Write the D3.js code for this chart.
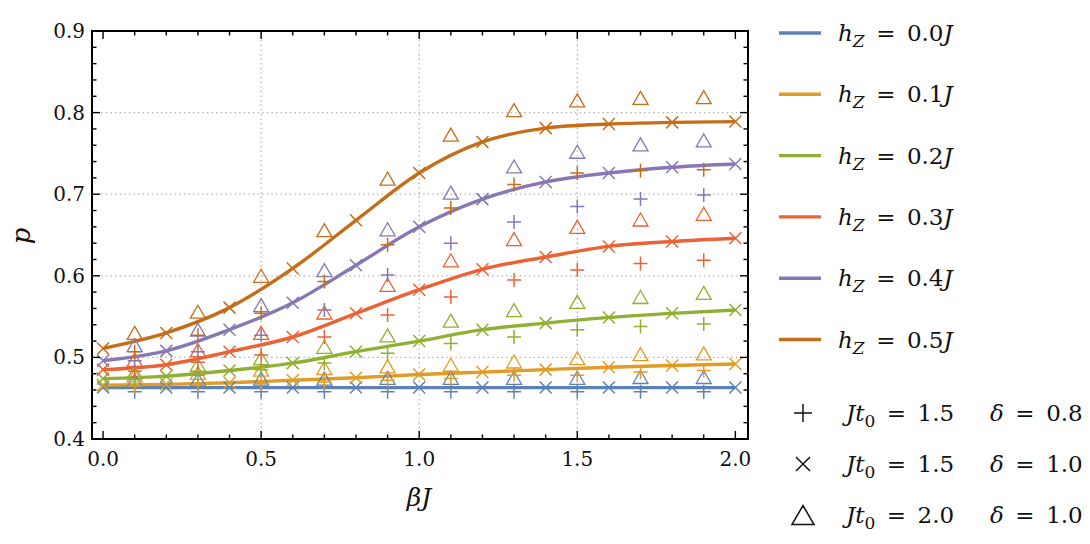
<!DOCTYPE html>
<html>
<head>
<meta charset="utf-8">
<script src="https://cdn.jsdelivr.net/npm/d3@7"></script>
<style>
  html, body { margin: 0; padding: 0; background: #fff; }
  svg { display: block; }
</style>
</head>
<body>
<svg id="chart" width="1090" height="544"></svg>
<script>
// ---------- data ----------
const fieldLabels = ["0.0", "0.1", "0.2", "0.3", "0.4", "0.5"];
const colors = ["#5E81B5", "#E19C24", "#8FB032", "#EB6235", "#8778B3", "#C56E1A"];

const betaEven = [0.0, 0.2, 0.4, 0.6, 0.8, 1.0, 1.2, 1.4, 1.6, 1.8, 2.0];
const betaOdd  = [0.1, 0.3, 0.5, 0.7, 0.9, 1.1, 1.3, 1.5, 1.7, 1.9];

// x markers (Jt0 = 1.5, delta = 1.0) — the solid curves pass through these
const crossH0 = [0.463, 0.463, 0.463, 0.463, 0.463, 0.463, 0.463, 0.463, 0.463, 0.463, 0.463];
const crossH1 = [0.466, 0.467, 0.469, 0.472, 0.475, 0.479, 0.482, 0.485, 0.488, 0.490, 0.492];
const crossH2 = [0.474, 0.477, 0.484, 0.493, 0.507, 0.520, 0.534, 0.542, 0.549, 0.554, 0.558];
const crossH3 = [0.485, 0.491, 0.507, 0.525, 0.554, 0.583, 0.608, 0.623, 0.636, 0.642, 0.646];
const crossH4 = [0.496, 0.508, 0.534, 0.567, 0.613, 0.660, 0.694, 0.715, 0.726, 0.733, 0.737];
const crossH5 = [0.511, 0.530, 0.561, 0.609, 0.668, 0.726, 0.764, 0.781, 0.786, 0.788, 0.789];

// + markers (Jt0 = 1.5, delta = 0.8)
const plusH0 = [0.458, 0.458, 0.458, 0.458, 0.458, 0.458, 0.458, 0.458, 0.458, 0.458];
const plusH1 = [0.465, 0.466, 0.468, 0.470, 0.472, 0.474, 0.478, 0.478, 0.482, 0.484];
const plusH2 = [0.473, 0.478, 0.485, 0.493, 0.505, 0.517, 0.525, 0.534, 0.538, 0.541];
const plusH3 = [0.483, 0.494, 0.503, 0.525, 0.552, 0.574, 0.595, 0.607, 0.615, 0.619];
const plusH4 = [0.496, 0.507, 0.527, 0.558, 0.601, 0.640, 0.666, 0.685, 0.694, 0.699];
const plusH5 = [0.507, 0.527, 0.554, 0.593, 0.638, 0.683, 0.712, 0.726, 0.729, 0.730];

// triangle markers (Jt0 = 2.0, delta = 1.0)
const triH0 = [0.472, 0.473, 0.474, 0.474, 0.475, 0.475, 0.475, 0.475, 0.476, 0.476];
const triH1 = [0.478, 0.481, 0.485, 0.487, 0.489, 0.491, 0.495, 0.499, 0.504, 0.505];
const triH2 = [0.482, 0.491, 0.499, 0.513, 0.527, 0.545, 0.558, 0.568, 0.574, 0.579];
const triH3 = [0.497, 0.509, 0.530, 0.555, 0.589, 0.619, 0.645, 0.660, 0.669, 0.676];
const triH4 = [0.515, 0.534, 0.564, 0.607, 0.657, 0.702, 0.734, 0.752, 0.761, 0.766];
const triH5 = [0.530, 0.556, 0.600, 0.656, 0.719, 0.773, 0.803, 0.815, 0.818, 0.819];

const xTicks = [0.0, 0.5, 1.0, 1.5, 2.0];
const yTicks = [0.4, 0.5, 0.6, 0.7, 0.8, 0.9];

const markerLegend = [
  { sym: "plus",  t0: "1.5", delta: "0.8" },
  { sym: "cross", t0: "1.5", delta: "1.0" },
  { sym: "tri",   t0: "2.0", delta: "1.0" }
];

// ---------- layout ----------
const crosses = [crossH0, crossH1, crossH2, crossH3, crossH4, crossH5];
const pluses  = [plusH0, plusH1, plusH2, plusH3, plusH4, plusH5];
const tris    = [triH0, triH1, triH2, triH3, triH4, triH5];

const svg = d3.select("#chart");
const FONT = "DejaVu Serif";
const L = 92, R = 748, T = 31, B = 439;
const x = d3.scaleLinear().domain([-0.035, 2.04]).range([L, R]);
const y = d3.scaleLinear().domain([0.4, 0.9]).range([B, T]);

// grid
const grid = svg.append("g").attr("stroke", "#b0b0b0").attr("stroke-width", 1.3)
  .attr("stroke-dasharray", "1.4,3.2");
[0.5, 1.0, 1.5].forEach(v => grid.append("line")
  .attr("x1", x(v)).attr("x2", x(v)).attr("y1", T).attr("y2", B));
[0.5, 0.6, 0.7, 0.8].forEach(v => grid.append("line")
  .attr("x1", L).attr("x2", R).attr("y1", y(v)).attr("y2", y(v)));

// curves
const line = d3.line().x(d => x(d[0])).y(d => y(d[1])).curve(d3.curveMonotoneX);
const plot = svg.append("g");
crosses.forEach((vals, i) => {
  plot.append("path")
    .attr("d", line(betaEven.map((b, j) => [b, vals[j]])))
    .attr("fill", "none").attr("stroke", colors[i]).attr("stroke-width", 3.4)
    .attr("stroke-linecap", "butt");
});

function plusPath(s) { return `M${-s},0H${s}M0,${-s}V${s}`; }
function crossPath(s) { return `M${-s},${-s}L${s},${s}M${-s},${s}L${s},${-s}`; }
function triPath(w, h) { return `M0,${-h/2}L${w/2},${h/2}L${-w/2},${h/2}Z`; }

const mk = svg.append("g").attr("fill", "none");
for (let i = 0; i < 6; i++) {
  tris[i].forEach((v, j) => mk.append("path").attr("d", triPath(15, 13))
    .attr("transform", `translate(${x(betaOdd[j])},${y(v)})`)
    .attr("stroke", colors[i]).attr("stroke-width", 1.3).attr("stroke-linejoin", "miter"));
  pluses[i].forEach((v, j) => mk.append("path").attr("d", plusPath(7))
    .attr("transform", `translate(${x(betaOdd[j])},${y(v)})`)
    .attr("stroke", colors[i]).attr("stroke-width", 1.5));
  crosses[i].forEach((v, j) => mk.append("path").attr("d", crossPath(6))
    .attr("transform", `translate(${x(betaEven[j])},${y(v)})`)
    .attr("stroke", colors[i]).attr("stroke-width", 1.5));
}

// frame
svg.append("rect").attr("x", L).attr("y", T).attr("width", R - L).attr("height", B - T)
  .attr("fill", "none").attr("stroke", "#000").attr("stroke-width", 2);

// ticks (inward, mirrored)
const tk = svg.append("g").attr("stroke", "#000").attr("stroke-width", 1.4);
d3.range(0, 21).forEach(k => {
  const v = k / 10, major = k % 5 === 0, len = major ? 8 : 4.5;
  tk.append("line").attr("x1", x(v)).attr("x2", x(v)).attr("y1", B).attr("y2", B - len);
  tk.append("line").attr("x1", x(v)).attr("x2", x(v)).attr("y1", T).attr("y2", T + len);
});
d3.range(0, 26).forEach(k => {
  const v = 0.4 + k * 0.02, major = k % 5 === 0, len = major ? 8 : 4.5;
  tk.append("line").attr("x1", L).attr("x2", L + len).attr("y1", y(v)).attr("y2", y(v));
  tk.append("line").attr("x1", R).attr("x2", R - len).attr("y1", y(v)).attr("y2", y(v));
});

function txt(sel) {
  return sel.append("text").style("font-family", FONT).attr("fill", "#111");
}

// tick labels
const xl = svg.append("g");
xTicks.forEach(d => txt(xl).attr("x", x(d)).attr("y", 466).attr("text-anchor", "middle")
  .style("font-size", "20px").text(d.toFixed(1)));
const yl = svg.append("g");
yTicks.forEach(d => txt(yl).attr("x", 85).attr("y", y(d) + 7).attr("text-anchor", "end")
  .style("font-size", "20px").text(d.toFixed(1)));

// axis titles
txt(svg).attr("x", 419).attr("y", 506).attr("text-anchor", "middle")
  .style("font-size", "25px").style("font-style", "italic").text("βJ");
txt(svg).attr("transform", "translate(30,236) rotate(-90)")
  .attr("text-anchor", "middle").style("font-size", "26px").style("font-style", "italic").text("p");

// legend: lines
const lg = svg.append("g");
const EQ = "\u2002=\u2002";
fieldLabels.forEach((lab, i) => {
  const ly = 33 + i * 61.3;
  lg.append("line").attr("x1", 779).attr("x2", 821).attr("y1", ly).attr("y2", ly)
    .attr("stroke", colors[i]).attr("stroke-width", 3.4);
  const t = txt(lg).attr("x", 838).attr("y", ly + 8).style("font-size", "23px");
  t.append("tspan").style("font-style", "italic").text("h");
  t.append("tspan").style("font-style", "italic").style("font-size", "17px").attr("dy", 6).text("Z");
  t.append("tspan").attr("dy", -6).text(EQ + lab);
  t.append("tspan").style("font-style", "italic").text("J");
});

// legend: markers
markerLegend.forEach((m, i) => {
  const ly = 413 + i * 51;
  const p = m.sym === "plus" ? plusPath(9) : m.sym === "cross" ? crossPath(7) : triPath(22, 19);
  lg.append("path").attr("d", p).attr("transform", `translate(803,${ly})`)
    .attr("fill", "none").attr("stroke", "#111").attr("stroke-width", 1.5);
  const t = txt(lg).attr("x", 846).attr("y", ly + 8).style("font-size", "23px");
  t.append("tspan").style("font-style", "italic").text("Jt");
  t.append("tspan").style("font-size", "17px").attr("dy", 6).text("0");
  t.append("tspan").attr("dy", -6).text(EQ + m.t0);
  const t2 = txt(lg).attr("x", 990).attr("y", ly + 8).style("font-size", "23px");
  t2.append("tspan").style("font-style", "italic").text("δ");
  t2.append("tspan").text(EQ + m.delta);
});
</script>
</body>
</html>
